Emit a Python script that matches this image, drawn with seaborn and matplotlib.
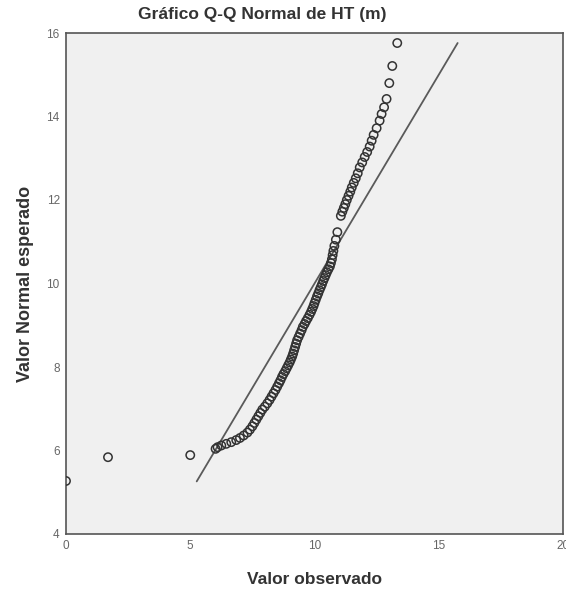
import matplotlib
matplotlib.use("Agg")
import matplotlib.pyplot as plt
import seaborn as sns
import pandas as pd

# Valores (observado, normal esperado)
observado = [0.0, 1.69, 5.0,
             6.02, 6.10, 6.25, 6.45, 6.65, 6.85, 7.00, 7.15, 7.30, 7.40,
             7.50, 7.58, 7.66, 7.74, 7.82, 7.90, 8.00, 8.10, 8.19, 8.27,
             8.35, 8.43, 8.50, 8.57, 8.63, 8.69, 8.75, 8.82, 8.88, 8.94,
             9.00, 9.05, 9.10, 9.14, 9.18, 9.22, 9.26, 9.30, 9.36, 9.42,
             9.48, 9.53, 9.60, 9.66, 9.73, 9.80, 9.86, 9.91, 9.96, 10.0,
             10.05, 10.10, 10.15, 10.20, 10.25, 10.30, 10.35, 10.40, 10.45,
             10.50, 10.56, 10.62, 10.66, 10.70, 10.73, 10.76, 10.80, 10.86,
             10.92, 11.06, 11.12, 11.18, 11.24, 11.30, 11.37, 11.44, 11.50,
             11.58, 11.66, 11.74, 11.82, 11.92, 12.02, 12.12, 12.22, 12.30,
             12.38, 12.50, 12.62, 12.70, 12.80, 12.90, 13.01, 13.13, 13.33]
esperado = [5.27, 5.84, 5.89,
            6.04, 6.08, 6.12, 6.16, 6.20, 6.25, 6.30, 6.36, 6.43, 6.50,
            6.58, 6.66, 6.74, 6.82, 6.90, 6.98, 7.05, 7.13, 7.21, 7.29,
            7.37, 7.45, 7.53, 7.61, 7.68, 7.76, 7.83, 7.90, 7.97, 8.04,
            8.11, 8.18, 8.25, 8.32, 8.40, 8.48, 8.56, 8.64, 8.72, 8.80,
            8.88, 8.96, 9.03, 9.10, 9.17, 9.25, 9.32, 9.39, 9.46, 9.53,
            9.61, 9.69, 9.76, 9.84, 9.91, 9.98, 10.06, 10.13, 10.20,
            10.27, 10.34, 10.41, 10.49, 10.58, 10.68, 10.78, 10.90, 11.05,
            11.23, 11.62, 11.72, 11.81, 11.90, 12.00, 12.10, 12.20, 12.30,
            12.41, 12.52, 12.64, 12.78, 12.90, 13.03, 13.15, 13.28, 13.42,
            13.56, 13.72, 13.90, 14.06, 14.22, 14.42, 14.80, 15.21, 15.76]

# linha de referência y = x
linha_ref = [5.26, 15.76]

x_ticks = [0, 5, 10, 15, 20]
y_ticks = [4, 6, 8, 10, 12, 14, 16]

df = pd.DataFrame({"observado": observado, "esperado": esperado})

sns.set_style("white")
plt.rcParams["font.family"] = ["Liberation Sans", "DejaVu Sans"]

fig = plt.figure(figsize=(5.66, 5.89), dpi=100)
ax = fig.add_axes([66 / 566, 1 - 534 / 589, 497 / 566, 501 / 589])
ax.set_facecolor("#f0f0f0")

sns.lineplot(x=linha_ref, y=linha_ref, ax=ax, color="#5a5a5a", linewidth=1.3)
sns.scatterplot(data=df, x="observado", y="esperado", ax=ax,
                facecolor="none", edgecolor="#333333", linewidth=1.1,
                s=36, marker="o", zorder=3)

ax.set_xlim(0, 20)
ax.set_ylim(4, 16)
ax.set_xticks(x_ticks)
ax.set_yticks(y_ticks)
ax.tick_params(direction="inout", length=7, width=1, colors="#555555",
               labelsize=8.5, labelcolor="#666666", pad=1)
for s in ax.spines.values():
    s.set_color("#555555")
    s.set_linewidth(1.2)

ax.set_xlabel("Valor observado", fontsize=12.5, fontweight="bold",
              color="#333333", labelpad=14)
ax.set_ylabel("Valor Normal esperado", fontsize=13, fontweight="bold",
              color="#333333", labelpad=9)
fig.text(262 / 566, 1 - 14 / 589, "Gráfico Q-Q Normal de HT (m)",
         ha="center", va="center", fontsize=12.5, fontweight="bold",
         color="#333333")

fig.savefig("out.png", dpi=100)
